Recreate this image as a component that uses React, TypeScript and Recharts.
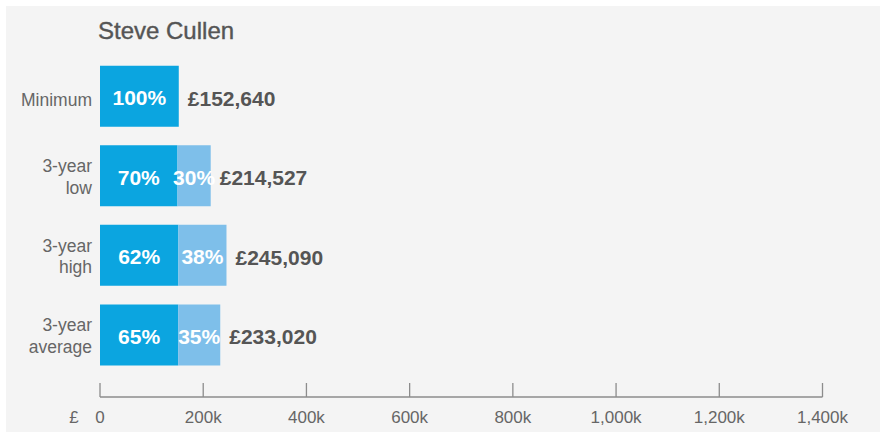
import React from "react";
import { BarChart, Bar, XAxis, YAxis, LabelList } from "recharts";

const title = "Steve Cullen";
const categories = ["Minimum", "3-year low", "3-year high", "3-year average"];
const totals = [152640, 214527, 245090, 233020];
const fixedPct = [100, 70, 62, 65];
const variablePct = [0, 30, 38, 35];
const xTicks = [0, 200000, 400000, 600000, 800000, 1000000, 1200000, 1400000];
const xTickLabels = ["0", "200k", "400k", "600k", "800k", "1,000k", "1,200k", "1,400k"];
const currency = "£";

const data = categories.map((name, i) => ({
  name,
  fixed: (totals[i] * fixedPct[i]) / 100,
  variable: (totals[i] * variablePct[i]) / 100,
  fixedPct: fixedPct[i],
  variablePct: variablePct[i],
  total: totals[i],
}));

const FONT = "'Liberation Sans', Arial, Helvetica, sans-serif";
const DARK = "#0ba5e0";
const LIGHT = "#7ebfea";

const YTick = (props: any) => {
  const { x, y, payload } = props;
  const words = String(payload.value).split(" ");
  const lines = words.length > 1 ? [words[0], words.slice(1).join(" ")] : words;
  const offsets = lines.length === 1 ? [9.5] : [-4, 17.5];
  return (
    <g>
      {lines.map((l, i) => (
        <text key={i} x={x} y={y + offsets[i]} textAnchor="end" fill="#666" fontSize={17.5} fontFamily={FONT}>
          {l}
        </text>
      ))}
    </g>
  );
};

const XTick = (props: any) => {
  const { x, y, payload, index } = props;
  const idx = xTicks.indexOf(payload.value);
  return (
    <g>
      <line x1={x} x2={x} y1={y - 14} y2={y} stroke="#8c8c8c" strokeWidth={1.3} />
      <text x={x} y={y + 25.5} textAnchor="middle" fill="#666" fontSize={17} fontFamily={FONT}>
        {idx >= 0 ? xTickLabels[idx] : payload.value}
      </text>
      {index === 0 && (
        <text x={x - 26} y={y + 25.5} textAnchor="middle" fill="#666" fontSize={17} fontFamily={FONT}>
          {currency}
        </text>
      )}
    </g>
  );
};

const PctLabel = (props: any) => {
  const { x, y, width, height, value } = props;
  if (!value) return null;
  return (
    <text
      x={Number(x) + Number(width) / 2}
      y={Number(y) + Number(height) / 2 + 9}
      textAnchor="middle"
      fill="#fff"
      fontSize={21}
      fontWeight="bold"
      fontFamily={FONT}
    >
      {value}%
    </text>
  );
};

const makeValueLabel = (onFixed: boolean) => (props: any) => {
  const { x, y, width, height, value } = props;
  const i = totals.indexOf(Number(value));
  const hasVariable = i >= 0 && variablePct[i] > 0;
  if (onFixed === hasVariable) return null;
  return (
    <text
      x={Number(x) + Number(width) + 9}
      y={Number(y) + Number(height) / 2 + 9.5}
      textAnchor="start"
      fill="#555"
      fontSize={21}
      fontWeight="bold"
      fontFamily={FONT}
    >
      {currency}
      {Number(value).toLocaleString("en-GB")}
    </text>
  );
};

const FixedValueLabel = makeValueLabel(true);
const VariableValueLabel = makeValueLabel(false);

export default function App() {
  return (
    <div style={{ position: "absolute", left: 0, top: 0, width: 880, height: 432, background: "#fff" }}>
      <div style={{ position: "absolute", left: 6, top: 6, width: 874, height: 426, background: "#f4f4f4" }}>
        <div
          style={{
            position: "absolute",
            left: 92,
            top: 11,
            fontFamily: FONT,
            fontSize: 24,
            color: "#555",
            lineHeight: "28px",
            whiteSpace: "nowrap",
            WebkitTextStroke: "0.4px #555",
          }}
        >
          {title}
        </div>
        <BarChart
          width={874}
          height={426}
          data={data}
          layout="vertical"
          margin={{ top: 50.7, right: 57.5, bottom: 0, left: 0 }}
          barSize={61}
        >
          <XAxis
            type="number"
            domain={[0, 1400000]}
            ticks={xTicks}
            height={35}
            tickSize={0}
            tickMargin={0}
            tickLine={false}
            axisLine={{ stroke: "#8c8c8c", strokeWidth: 1.3 }}
            tick={<XTick />}
            interval={0}
          />
          <YAxis
            type="category"
            dataKey="name"
            width={94}
            axisLine={false}
            tickLine={false}
            tickSize={0}
            tickMargin={8}
            padding={{ top: 0, bottom: 22 }}
            tick={<YTick />}
            interval={0}
          />
          <Bar dataKey="fixed" stackId="a" fill={DARK} isAnimationActive={false}>
            <LabelList dataKey="fixedPct" content={<PctLabel />} />
            <LabelList dataKey="total" content={<FixedValueLabel />} />
          </Bar>
          <Bar dataKey="variable" stackId="a" fill={LIGHT} isAnimationActive={false}>
            <LabelList dataKey="variablePct" content={<PctLabel />} />
            <LabelList dataKey="total" content={<VariableValueLabel />} />
          </Bar>
        </BarChart>
      </div>
    </div>
  );
}
